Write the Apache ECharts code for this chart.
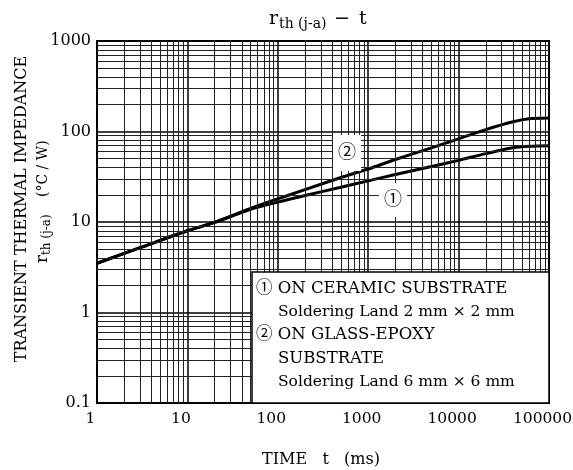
<!DOCTYPE html>
<html>
<head>
<meta charset="utf-8">
<script src="https://cdn.jsdelivr.net/npm/echarts@6/dist/echarts.min.js"></script>
<style>
  html, body { margin: 0; padding: 0; background: #fff; }
  #chart { width: 573px; height: 470px; }
</style>
</head>
<body>
<div id="chart"></div>
<script>
// time (ms)
const timeMs = [1, 3, 10, 20, 50, 100, 200, 500, 1000, 2000, 5000, 10000, 20000, 40000, 60000, 100000];
// (1) ceramic substrate, 2mm x 2mm land
const ceramic = [3.5, 5.2, 8.0, 9.9, 13.8, 16.6, 19.6, 24.2, 28.5, 33.5, 41, 48, 57, 66, 68.5, 69.5];
// (2) glass-epoxy substrate, 6mm x 6mm land
const glassEpoxy = [3.5, 5.2, 8.0, 9.9, 14.1, 18.0, 22.8, 31, 38.5, 49, 66, 83, 105, 128, 138, 141];

const xTickLabels = ['1', '10', '100', '1000', '10000', '100000'];
const yTickLabels = ['0.1', '1', '10', '100', '1000'];
const xDecades = [1, 10, 100, 1000, 10000];
const yDecades = [0.1, 1, 10, 100];
const minorSteps = [2, 3, 4, 5, 6, 7, 8, 9];

// callout positions for the circled numbers [t, r]
const tagCeramic = [1880, 17.5];
const tagGlass = [583, 58];

const serif = '"DejaVu Serif", "Noto Sans CJK JP", serif';

const minorLines = [];
xDecades.forEach(d => minorSteps.forEach(m => minorLines.push({xAxis: d * m})));
yDecades.forEach(d => minorSteps.forEach(m => minorLines.push({yAxis: +(d * m).toPrecision(3)})));

function tickText(list) {
  return v => {
    const hit = list.find(s => Math.abs(parseFloat(s) - v) < v * 1e-6);
    return hit || '';
  };
}

const myChart = echarts.init(document.getElementById('chart'));
myChart.setOption({
  animation: false,
  backgroundColor: '#fff',
  grid: {
    left: 97, right: 24, top: 41, bottom: 67,
    containLabel: false, outerBoundsMode: 'none',
    show: true, borderColor: '#000', borderWidth: 2
  },
  xAxis: {
    type: 'log', logBase: 10, min: 1, max: 100000,
    axisLine: {show: true, lineStyle: {color: '#000', width: 2}},
    axisTick: {show: false},
    splitLine: {show: true, lineStyle: {color: '#000', width: 1.5}},
    axisLabel: {
      formatter: tickText(xTickLabels),
      color: '#000', fontFamily: serif, fontSize: 15.5, margin: 8,
      padding: [0, 13, 0, 0]
    }
  },
  yAxis: {
    type: 'log', logBase: 10, min: 0.1, max: 1000,
    axisLine: {show: true, lineStyle: {color: '#000', width: 2}},
    axisTick: {show: false},
    splitLine: {show: true, lineStyle: {color: '#000', width: 1.5}},
    axisLabel: {
      formatter: tickText(yTickLabels),
      color: '#000', fontFamily: serif, fontSize: 16, margin: 6
    }
  },
  series: [
    {
      type: 'line', data: [], z: 1, silent: true,
      markLine: {
        silent: true, symbol: 'none', animation: false,
        label: {show: false},
        lineStyle: {type: 'solid', color: '#222', width: 1},
        data: minorLines
      }
    },
    {
      name: 'ceramic', type: 'line', z: 3,
      data: timeMs.map((t, i) => [t, ceramic[i]]),
      smooth: 0.3, showSymbol: false,
      lineStyle: {color: '#000', width: 3},
      markPoint: {
        symbol: 'rect', symbolSize: [28, 34], silent: true,
        itemStyle: {color: '#fff'},
        label: {show: true, formatter: '①', color: '#000', fontSize: 18, fontFamily: serif},
        data: [{coord: tagCeramic}]
      }
    },
    {
      name: 'glass', type: 'line', z: 3,
      data: timeMs.map((t, i) => [t, glassEpoxy[i]]),
      smooth: 0.3, showSymbol: false,
      lineStyle: {color: '#000', width: 3},
      markPoint: {
        symbol: 'rect', symbolSize: [28, 36], silent: true,
        itemStyle: {color: '#fff'},
        label: {show: true, formatter: '②', color: '#000', fontSize: 18, fontFamily: serif},
        data: [{coord: tagGlass}]
      }
    }
  ],
  graphic: [
    // title  r th(j-a) - t
    {type: 'text', x: 269, y: 19, z: 100, style: {text: 'r', font: '19px ' + serif, fill: '#000', textVerticalAlign: 'middle'}},
    {type: 'text', x: 279, y: 24, z: 100, style: {text: 'th (j-a)', font: '14px ' + serif, fill: '#000', textVerticalAlign: 'middle'}},
    {type: 'text', x: 334, y: 19, z: 100, style: {text: '−', font: '19px ' + serif, fill: '#000', textVerticalAlign: 'middle'}},
    {type: 'text', x: 359, y: 19, z: 100, style: {text: 't', font: '19px ' + serif, fill: '#000', textVerticalAlign: 'middle'}},
    // y axis name
    {
      type: 'text', x: 22, y: 209, rotation: Math.PI / 2, z: 100,
      style: {text: 'TRANSIENT THERMAL IMPEDANCE', font: '16px ' + serif, fill: '#000', textAlign: 'center', textVerticalAlign: 'middle'}
    },
    {
      type: 'group', x: 43, y: 263, rotation: Math.PI / 2, z: 100,
      children: [
        {type: 'text', x: 0, y: 0, style: {text: 'r', font: '17px ' + serif, fill: '#000', textVerticalAlign: 'middle'}},
        {type: 'text', x: 8, y: 4, style: {text: 'th (j-a)', font: '12px ' + serif, fill: '#000', textVerticalAlign: 'middle'}},
        {type: 'text', x: 66, y: 0, style: {text: '(°C / W)', font: '14px ' + serif, fill: '#000', textVerticalAlign: 'middle'}}
      ]
    },
    // x axis name
    {
      type: 'text', x: 321, y: 460, z: 100,
      style: {text: 'TIME   t   (ms)', font: '16px ' + serif, fill: '#000', textAlign: 'center', textVerticalAlign: 'middle'}
    },
    // note box
    {
      type: 'rect', z: 100,
      shape: {x: 252, y: 272, width: 297, height: 131},
      style: {fill: '#fff', stroke: '#000', lineWidth: 1.5}
    },
    {type: 'text', x: 256, y: 289, z: 101, style: {text: '① ON CERAMIC SUBSTRATE', font: '16.5px ' + serif, fill: '#000', textVerticalAlign: 'middle'}},
    {type: 'text', x: 278, y: 312, z: 101, style: {text: 'Soldering Land 2 mm × 2 mm', font: '15.5px ' + serif, fill: '#000', textVerticalAlign: 'middle'}},
    {type: 'text', x: 256, y: 335, z: 101, style: {text: '② ON GLASS-EPOXY', font: '16.5px ' + serif, fill: '#000', textVerticalAlign: 'middle'}},
    {type: 'text', x: 278, y: 359, z: 101, style: {text: 'SUBSTRATE', font: '16.5px ' + serif, fill: '#000', textVerticalAlign: 'middle'}},
    {type: 'text', x: 278, y: 382, z: 101, style: {text: 'Soldering Land 6 mm × 6 mm', font: '15.5px ' + serif, fill: '#000', textVerticalAlign: 'middle'}}
  ]
});
</script>
</body>
</html>
